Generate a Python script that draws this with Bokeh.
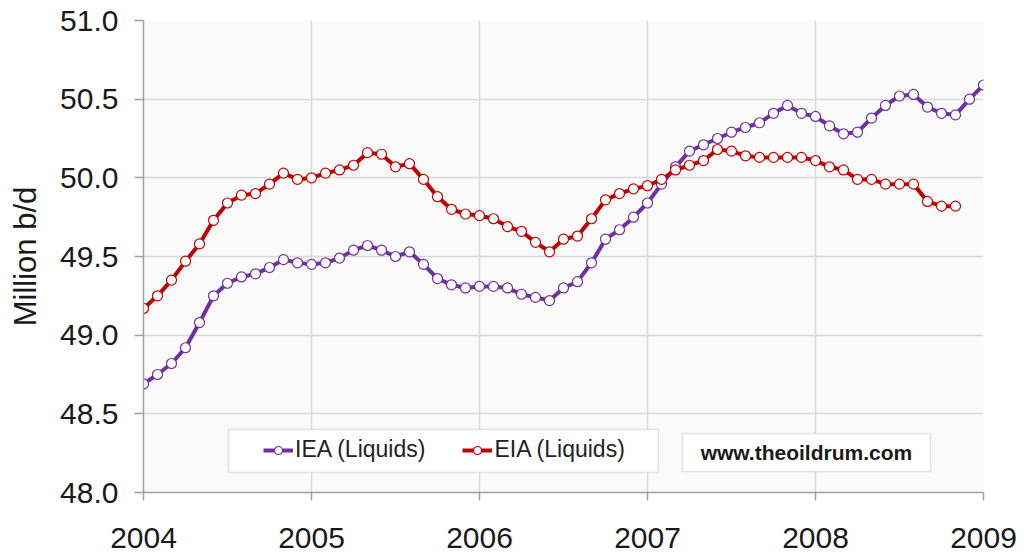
from bokeh.plotting import figure
from bokeh.models import Range1d, FixedTicker, Legend, LegendItem, BoxAnnotation, Label
from bokeh.embed import file_html
from bokeh.resources import INLINE

# ---- data ----
year_ticks = [2004, 2005, 2006, 2007, 2008, 2009]
year_labels = ["2004", "2005", "2006", "2007", "2008", "2009"]
value_ticks = [48.0, 48.5, 49.0, 49.5, 50.0, 50.5, 51.0]
value_labels = ["48.0", "48.5", "49.0", "49.5", "50.0", "50.5", "51.0"]

series_names = ["IEA (Liquids)", "EIA (Liquids)"]

# monthly values, Jan 2004 onward
iea_values = [
    48.69, 48.75, 48.82, 48.92, 49.08, 49.25, 49.33, 49.37, 49.39, 49.43, 49.48, 49.46,
    49.45, 49.46, 49.49, 49.54, 49.57, 49.54, 49.50, 49.53, 49.45, 49.36, 49.32, 49.30,
    49.31, 49.31, 49.30, 49.26, 49.24, 49.22, 49.30, 49.34, 49.46, 49.61, 49.67, 49.75,
    49.84, 49.96, 50.07, 50.17, 50.21, 50.25, 50.29, 50.32, 50.35, 50.41, 50.46, 50.41,
    50.39, 50.33, 50.28, 50.29, 50.38, 50.46, 50.52, 50.53, 50.45, 50.41, 50.40, 50.50,
    50.59,
]
eia_values = [
    49.17, 49.25, 49.35, 49.47, 49.58, 49.73, 49.84, 49.89, 49.90, 49.96, 50.03, 49.99,
    50.00, 50.03, 50.05, 50.08, 50.16, 50.15, 50.07, 50.09, 49.99, 49.88, 49.80, 49.77,
    49.76, 49.74, 49.69, 49.66, 49.59, 49.53, 49.61, 49.63, 49.74, 49.86, 49.90, 49.93,
    49.95, 49.99, 50.05, 50.08, 50.11, 50.18, 50.17, 50.14, 50.13, 50.13, 50.13, 50.13,
    50.11, 50.07, 50.05, 49.99, 49.99, 49.96, 49.96, 49.96, 49.85, 49.82, 49.82,
]

start_year = 2004
iea_x = [start_year + i / 12 for i in range(len(iea_values))]
eia_x = [start_year + i / 12 for i in range(len(eia_values))]

IEA_COLOR = "#7030A0"
EIA_COLOR = "#C00000"
FONT = "Liberation Sans"

p = figure(
    width=1024, height=556,
    output_backend="svg", toolbar_location=None,
    x_range=Range1d(year_ticks[0], year_ticks[-1]),
    y_range=Range1d(value_ticks[0], value_ticks[-1]),
    min_border_left=143, min_border_right=41, min_border_top=20, min_border_bottom=64,
    background_fill_color="#fafafa", border_fill_color="white",
)
p.outline_line_color = None

# grids
p.xgrid.ticker = FixedTicker(ticks=year_ticks)
p.ygrid.ticker = FixedTicker(ticks=value_ticks)
p.grid.grid_line_color = "#d9d9d9"
p.grid.grid_line_width = 1.5

# axes
p.xaxis.ticker = FixedTicker(ticks=year_ticks)
p.xaxis.major_label_overrides = dict(zip(year_ticks, year_labels))
p.yaxis.ticker = FixedTicker(ticks=value_ticks)
p.yaxis.major_label_overrides = dict(zip(value_ticks, value_labels))
for ax in (p.xaxis[0], p.yaxis[0]):
    ax.axis_line_color = "#a0a0a0"
    ax.axis_line_width = 1.5
    ax.major_tick_line_color = "#a0a0a0"
    ax.major_tick_line_width = 1.5
    ax.minor_tick_line_color = None
    ax.major_label_text_font = FONT
    ax.major_label_text_font_size = "30px"
    ax.major_label_text_color = "#1a1a1a"
p.xaxis.major_tick_in = 0
p.xaxis.major_tick_out = 8
p.xaxis.major_label_standoff = 27
p.yaxis.major_tick_in = 0
p.yaxis.major_tick_out = 9
p.yaxis.major_label_standoff = 16
p.yaxis.axis_label = "Million b/d"
p.yaxis.axis_label_text_font = FONT
p.yaxis.axis_label_text_font_size = "31px"
p.yaxis.axis_label_text_font_style = "normal"
p.yaxis.axis_label_text_color = "#1a1a1a"
p.yaxis.axis_label_standoff = 14

# series
l1 = p.line(iea_x, iea_values, line_color=IEA_COLOR, line_width=4)
s1 = p.scatter(iea_x, iea_values, marker="circle", size=10, fill_color="white",
               line_color=IEA_COLOR, line_width=1.2)
l2 = p.line(eia_x, eia_values, line_color=EIA_COLOR, line_width=4)
s2 = p.scatter(eia_x, eia_values, marker="circle", size=10, fill_color="white",
               line_color=EIA_COLOR, line_width=1.2)

# legend box
legend_box = BoxAnnotation(left=2004.506, right=2007.065, bottom=48.127, top=48.40,
                           fill_color="white", fill_alpha=1.0,
                           line_color="#a6a6a6", line_width=1.5)
p.add_layout(legend_box)

legend = Legend(
    items=[LegendItem(label=series_names[0], renderers=[l1, s1]),
           LegendItem(label=series_names[1], renderers=[l2, s2])],
    orientation="horizontal", location=(120, 29),
    glyph_width=30, glyph_height=20, label_standoff=2, spacing=37,
    padding=0, margin=0, border_line_alpha=0, background_fill_alpha=0,
    label_text_font=FONT, label_text_font_size="23px", label_text_color="#222222",
)
p.add_layout(legend)

# source box
src_box = BoxAnnotation(left=2007.208, right=2008.685, bottom=48.133, top=48.375,
                        fill_color="white", fill_alpha=1.0,
                        line_color="#a6a6a6", line_width=1.5)
p.add_layout(src_box)
src = Label(x=2007.946, y=48.254, text="www.theoildrum.com",
            text_align="center", text_baseline="middle",
            text_font=FONT, text_font_size="21px", text_font_style="bold",
            text_color="#1a1a1a")
p.add_layout(src)

open("out.html", "w").write(file_html(p, INLINE))
